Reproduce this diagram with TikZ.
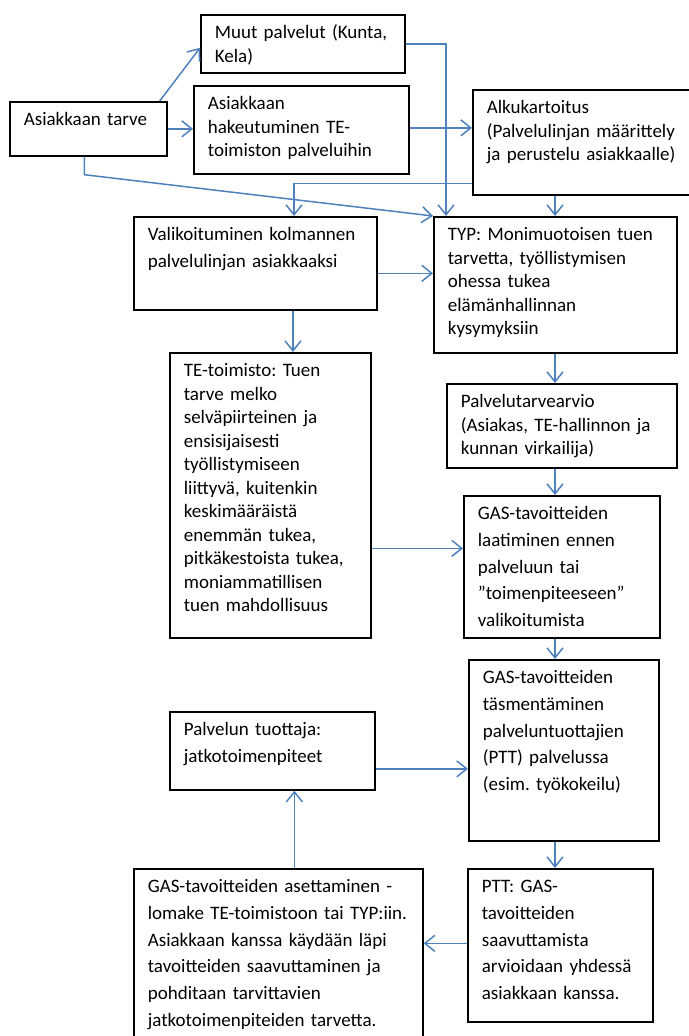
\documentclass[tikz,border=0pt]{standalone}
\usepackage{fontspec}
\setmainfont{Carlito}
\usetikzlibrary{arrows.meta}
\definecolor{linkblue}{HTML}{4F81BD}
\newcommand{\narrowlines}{\fontsize{19}{23.5}\selectfont\frenchspacing}
\newcommand{\widelines}{\fontsize{19}{26.7}\selectfont\frenchspacing}

\begin{document}
\begin{tikzpicture}[x=1pt,y=-1pt,
	box/.style 2 args={draw, line width=1.7pt, anchor=north west, align=left,
		inner xsep=14pt, inner ysep=4pt, text width=#1-28pt,
		text height=20pt, text depth=#2-28pt, font=\narrowlines},
	wide/.style={font=\widelines},
	arr/.style={draw=linkblue, line width=1.5pt, -{Straight Barb[length=10pt,width=16pt]}}]
	\useasboundingbox (0,0) rectangle (688,1036);
	\node[box={157pt}{54pt}] (tarve) at (9,101) {Asiakkaan tarve};
	\node[box={204pt}{58pt}] (muut) at (200,14) {Muut palvelut (Kunta,\\Kela)};
	\node[box={215pt}{88pt}] (hakeu) at (193,85) {Asiakkaan\\hakeutuminen TE-\\toimiston palveluihin};
	\node[box={226pt}{105pt}] (alku) at (472,89) {Alkukartoitus\\(Palvelulinjan määrittely\\ja perustelu asiakkaalle)};
	\node[box={243pt}{93pt}, wide] (valik) at (133,216) {Valikoituminen kolmannen\\palvelulinjan asiakkaaksi};
	\node[box={243pt}{136pt}] (typ) at (433,216) {TYP: Monimuotoisen tuen\\tarvetta, työllistymisen\\ohessa tukea\\elämänhallinnan\\kysymyksiin};
	\node[box={201pt}{285pt}] (tetoim) at (169,352) {TE-toimisto: Tuen\\tarve melko\\selväpiirteinen ja\\ensisijaisesti\\työllistymiseen\\liittyvä, kuitenkin\\keskimääräistä\\enemmän tukea,\\pitkäkestoista tukea,\\moniammatillisen\\tuen mahdollisuus};
	\node[box={230pt}{84pt}] (ptarve) at (446,383) {Palvelutarvearvio\\(Asiakas, TE-hallinnon ja\\kunnan virkailija)};
	\node[box={196pt}{142pt}, wide] (laati) at (463,495) {GAS-tavoitteiden\\laatiminen ennen\\palveluun tai\\”toimenpiteeseen”\\valikoitumista};
	\node[box={190pt}{181pt}, wide] (tasme) at (468,659) {GAS-tavoitteiden\\täsmentäminen\\palveluntuottajien\\(PTT) palvelussa\\(esim. työkokeilu)};
	\node[box={205pt}{78pt}, wide] (tuott) at (169,711) {Palvelun tuottaja:\\jatkotoimenpiteet};
	\node[box={185pt}{153pt}, wide] (ptt) at (467,868) {PTT: GAS-\\tavoitteiden\\saavuttamista\\arvioidaan yhdessä\\asiakkaan kanssa.};
	\node[box={289pt}{182pt}, wide] (asett) at (133,868) {GAS-tavoitteiden asettaminen -\\lomake TE-toimistoon tai TYP:iin.\\Asiakkaan kanssa käydään läpi\\tavoitteiden saavuttaminen ja\\pohditaan tarvittavien\\jatkotoimenpiteiden tarvetta.};
	\coordinate (axis) at (555,0);
	\draw[arr] ([xshift=-8pt]tarve.north east) -- ([yshift=-4pt]muut.west);
	\draw[arr] (tarve.east) -- (tarve.east -| hakeu.west);
	\draw[arr] ([xshift=-4pt]tarve.south) -- ++(0,18) -- (typ.north west);
	\draw[arr] (muut.east) -| ([xshift=13pt]typ.north west);
	\draw[arr] ([yshift=2pt]hakeu.east) -- ([yshift=2pt]hakeu.east -| alku.west);
	\draw[arr] ([yshift=12pt]alku.south west) -| ([xshift=161pt]valik.north west);
	\draw[arr] (axis |- alku.south) -- (axis |- typ.north);
	\draw[arr] ([yshift=-10pt]valik.east) -- ([yshift=-10pt]valik.east -| typ.west);
	\draw[arr] ([xshift=160pt]valik.south west) -- ([xshift=124pt]tetoim.north west);
	\draw[arr] (axis |- typ.south) -- (axis |- ptarve.north);
	\draw[arr] (axis |- ptarve.south) -- (axis |- laati.north);
	\draw[arr] ([yshift=-53pt]tetoim.east) -- ([yshift=-53pt]tetoim.east -| laati.west);
	\draw[arr] (axis |- laati.south) -- (axis |- tasme.north);
	\draw[arr] ([yshift=-18pt]tuott.east) -- ([yshift=-18pt]tuott.east -| tasme.west);
	\draw[arr] (axis |- tasme.south) -- (axis |- ptt.north);
	\draw[arr] ([yshift=2pt]ptt.west) -- ([yshift=2pt]ptt.west -| asett.east);
	\draw[arr] ([xshift=16pt]asett.north) -- ([xshift=16pt]asett.north |- tuott.south);
\end{tikzpicture}
\end{document}
